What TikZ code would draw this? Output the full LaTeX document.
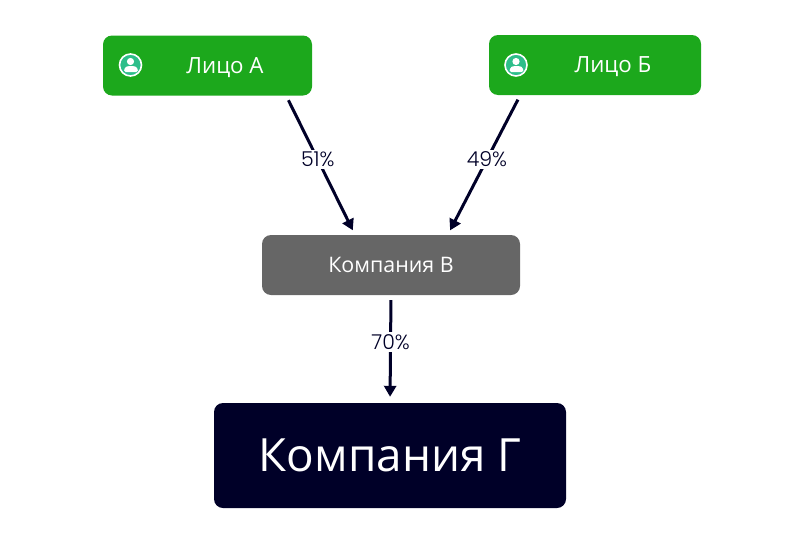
\documentclass[tikz,border=0pt]{standalone}
\usepackage{fontspec}
\setmainfont{Open Sans}
\newfontfamily\pctfont{Poppins}[UprightFont=* Light]
\usetikzlibrary{arrows.meta}
\definecolor{personcol}{HTML}{1CA81C}
\definecolor{companycol}{HTML}{666666}
\definecolor{targetcol}{HTML}{000028}
\definecolor{iconcol}{HTML}{2DBE8A}
\tikzset{
  box/.style={rounded corners=9pt,inner sep=0pt,text=white,text depth=0pt},
  person/.style={box,fill=personcol,minimum height=60pt,font=\fontsize{22.3}{26}\selectfont},
  link/.style={draw=targetcol,line width=3pt,-{Triangle[length=11pt,width=12pt]},shorten <=5pt,shorten >=5pt},
  pct/.style={fill=white,inner sep=2pt,text=targetcol,font=\pctfont\fontsize{20.5}{24}\selectfont},
  icon/.style={circle,draw=white,line width=1.6pt,fill=iconcol,minimum size=22pt,inner sep=0pt}
}
\begin{document}
\begin{tikzpicture}[x=1pt,y=-1pt]
\useasboundingbox (0,0) rectangle (804,552);

% boxes
\node [person,minimum width=209pt] (personA) at (207.5,65.5) {\hspace*{35pt}Лицо А};
\node [person,minimum width=212pt] (personB) at (595,65) {\hspace*{36pt}Лицо Б};
\node [box,fill=companycol,minimum width=258pt,minimum height=60pt,font=\fontsize{21.4}{25}\selectfont]
      (companyV) at (391,265) {Компания В};
\node [box,fill=targetcol,minimum width=352pt,minimum height=105pt,font=\fontsize{45.8}{55}\selectfont]
      (companyG) at (390,455.5) {Компания Г};

% icons
\node [icon] (iconA) at (130.5,65) {};
\node [icon] (iconB) at (516,65) {};
\foreach \i in {iconA,iconB} {
  \fill [white] (\i) ++(0,-3.5) circle (3.6);
  \fill [white,rounded corners=1.5pt] (\i) ++(-6.5,7) -- ++(0.6,-4.5) -- ++(3.5,-1.5) -- ++(5.8,0) -- ++(3.5,1.5) -- ++(0.6,4.5) -- cycle;
}

% owners
\draw [link] (personA.-21.2) -- node [pct,pos=.46] (pctA) {51\%} (companyV.140);
\draw [link] (personB.202.3) -- node [pct,pos=.46] (pctB) {49\%} (companyV.28.2);
\draw [link,shorten >=6pt] (companyV.south) -- node [pct,pos=.435] (pctV) {70\%} (companyG.north);
\end{tikzpicture}
\end{document}
